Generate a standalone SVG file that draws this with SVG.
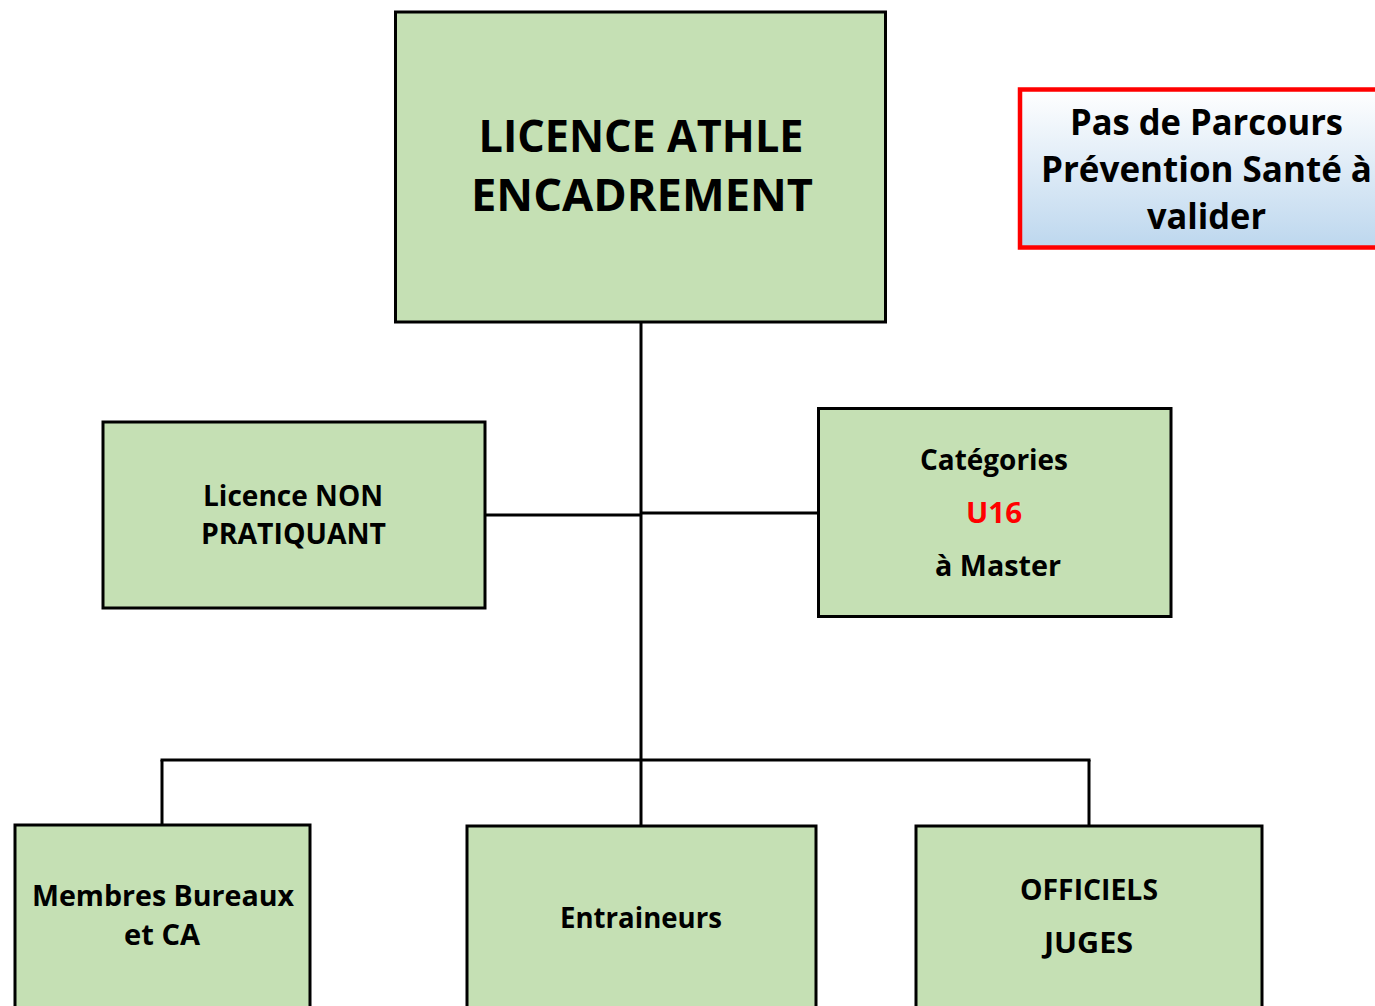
<svg xmlns="http://www.w3.org/2000/svg" width="1375" height="1006" viewBox="0 0 1375 1006">
<style>
.box{fill:#C5E0B4;stroke:#000;stroke-width:3}
.t{font-family:"Open Sans","Noto Sans","Liberation Sans",sans-serif;font-weight:bold;fill:#000;text-anchor:middle}
.big{font-size:45px}
.note{font-size:35px}
.mid{font-size:29px}
.red{fill:#FF0000}
.conn line{stroke:#000;stroke-width:3}
</style>
<defs>
<linearGradient id="blue" x1="0" y1="0" x2="0" y2="1">
<stop offset="0" stop-color="#FFFFFF"/>
<stop offset="1" stop-color="#BDD7EE"/>
</linearGradient>
</defs>
<rect width="1375" height="1006" fill="#FFFFFF"/>
<g class="conn" id="connectors">
<line x1="641" y1="322" x2="641" y2="761"/>
<line x1="485" y1="515" x2="641" y2="515"/>
<line x1="641" y1="513" x2="818" y2="513"/>
<line x1="160.5" y1="760" x2="1090.5" y2="760"/>
<line x1="162" y1="760" x2="162" y2="825"/>
<line x1="641" y1="760" x2="641" y2="826"/>
<line x1="1089" y1="760" x2="1089" y2="826"/>
</g>
<g id="licence-athle">
<rect class="box" x="395.5" y="12" width="490" height="310"/>
<text class="t big" x="641" y="152" textLength="325" lengthAdjust="spacingAndGlyphs">LICENCE ATHLE</text>
<text class="t big" x="642" y="211" textLength="342" lengthAdjust="spacingAndGlyphs">ENCADREMENT</text>
</g>
<g id="note">
<rect x="1020" y="89.5" width="370" height="158" fill="url(#blue)" stroke="#FF0000" stroke-width="4.5"/>
<text class="t note" x="1206.5" y="135" textLength="273" lengthAdjust="spacingAndGlyphs">Pas de Parcours</text>
<text class="t note" x="1206.5" y="182" textLength="331" lengthAdjust="spacingAndGlyphs">Prévention Santé à</text>
<text class="t note" x="1206.5" y="229" textLength="119" lengthAdjust="spacingAndGlyphs">valider</text>
</g>
<g id="non-pratiquant">
<rect class="box" x="103" y="422" width="382" height="186"/>
<text class="t mid" x="293" y="506" textLength="180" lengthAdjust="spacingAndGlyphs">Licence NON</text>
<text class="t mid" x="293.5" y="544" textLength="185" lengthAdjust="spacingAndGlyphs">PRATIQUANT</text>
</g>
<g id="categories">
<rect class="box" x="818.5" y="408.5" width="352.5" height="208"/>
<text class="t mid" x="994" y="470" textLength="148" lengthAdjust="spacingAndGlyphs">Catégories</text>
<text class="t mid red" x="994" y="523" textLength="56" lengthAdjust="spacingAndGlyphs">U16</text>
<text class="t mid" x="998" y="576" textLength="126" lengthAdjust="spacingAndGlyphs">à Master</text>
</g>
<g id="membres">
<rect class="box" x="15" y="825" width="295" height="200"/>
<text class="t mid" x="163" y="906" textLength="262" lengthAdjust="spacingAndGlyphs">Membres Bureaux</text>
<text class="t mid" x="162" y="945" textLength="76" lengthAdjust="spacingAndGlyphs">et CA</text>
</g>
<g id="entraineurs">
<rect class="box" x="467" y="826" width="349" height="200"/>
<text class="t mid" x="641" y="928" textLength="162" lengthAdjust="spacingAndGlyphs">Entraineurs</text>
</g>
<g id="officiels">
<rect class="box" x="916" y="826" width="346" height="200"/>
<text class="t mid" x="1089" y="900" textLength="138" lengthAdjust="spacingAndGlyphs">OFFICIELS</text>
<text class="t mid" x="1088.5" y="953" textLength="89" lengthAdjust="spacingAndGlyphs">JUGES</text>
</g>
</svg>
